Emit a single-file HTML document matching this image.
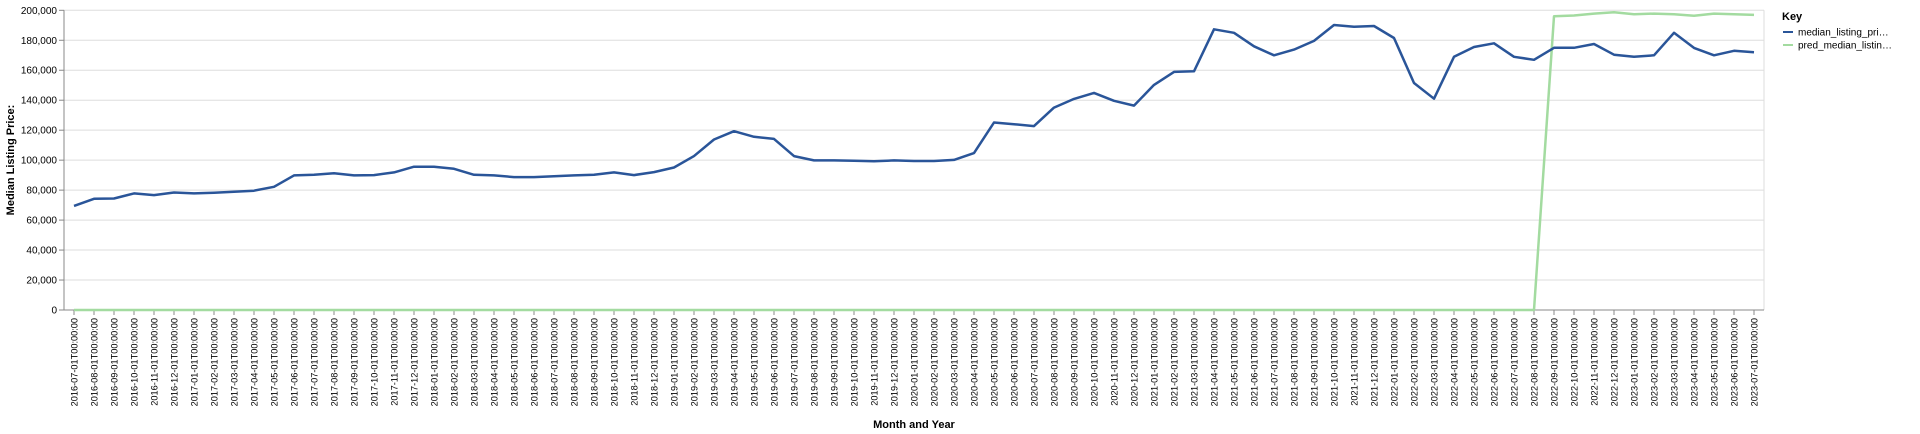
<!DOCTYPE html>
<html><head><meta charset="utf-8"><style>
body{margin:0;background:#fff;}
svg{display:block;font-family:"Liberation Sans",Arial,sans-serif;}
</style></head><body>
<svg id="chart" width="1920" height="434" xmlns="http://www.w3.org/2000/svg">
<g id="grid"></g>
<g id="yaxis"></g>
<g id="xaxis"></g>
<g id="series"></g>
<text transform="translate(14,160) rotate(-90)" text-anchor="middle" font-size="11" font-weight="bold" fill="#000">Median Listing Price:</text>
<text x="914" y="428" text-anchor="middle" font-size="11" font-weight="bold" fill="#000">Month and Year</text>
<g>
<text x="1782" y="20" font-size="11" font-weight="bold" fill="#000">Key</text>
<g>
<line x1="1783" y1="32" x2="1793" y2="32" stroke="#2a5599" stroke-width="2"/>
<text x="1798" y="35.5" font-size="10" fill="#000">median_listing_pri…</text></g>
<g>
<line x1="1783" y1="45" x2="1793" y2="45" stroke="#a3dba0" stroke-width="2"/>
<text x="1798" y="48.5" font-size="10" fill="#000">pred_median_listin…</text></g>
</g>
</svg>
<script>
const yTicks=[0,20000,40000,60000,80000,100000,120000,140000,160000,180000,200000];
const startYear=2016, startMonth=7, nMonths=85;
const median=[69.5,74.2,74.4,77.8,76.7,78.4,77.8,78.2,78.9,79.6,82.2,89.8,90.2,91.3,89.8,90,91.8,
95.6,95.6,94.2,90.2,89.8,88.7,88.7,89.3,89.8,90.2,91.8,90,92,95.1,102.7,113.8,119.3,115.6,114.2,102.7,
99.8,99.8,99.6,99.2,99.8,99.4,99.4,100.2,104.7,125.1,124,122.7,135.1,140.9,144.9,139.6,136.4,150.2,158.9,159.3,
187.3,185,176,170,173.8,179.6,190.2,189,189.5,181.5,151.5,141,169,175.5,178,169,167,175,175,177.5,
170.4,169,170,185,174.9,170,173,172];
const pred=[0,0,0,0,0,0,0,0,0,0,0,0,0,0,0,0,0,0,0,0,0,0,0,0,0,0,0,0,0,0,0,0,0,0,0,0,0,0,0,0,0,0,0,0,0,0,0,0,0,0,0,0,0,0,0,0,0,0,0,0,0,0,0,0,0,0,0,0,0,0,0,0,0,0,
196,196.5,197.8,198.7,197.3,197.8,197.3,196.4,197.8,197.3,196.9];
const NS='http://www.w3.org/2000/svg';
const X0=64,X1=1764,Y0=310,Y1=10.3;
function xs(i){return 74+i*(1680/(nMonths-1));}
function ys(v){return Y0-(v/200000)*(Y0-Y1);}
function mk(tag,attrs,parent){const e=document.createElementNS(NS,tag);for(const k in attrs)e.setAttribute(k,attrs[k]);parent.appendChild(e);return e;}
const grid=document.getElementById('grid'),ya=document.getElementById('yaxis'),xa=document.getElementById('xaxis'),se=document.getElementById('series');
yTicks.forEach(t=>{
  const y=ys(t);
  const g=mk('line',{x1:X0,x2:X1,y1:y,y2:y,stroke:'#ddd','stroke-width':1},grid);
  
  
  mk('line',{x1:X0-5,x2:X0,y1:y,y2:y,stroke:'#888'},ya);
  const tx=mk('text',{x:X0-7,y:y+3.5,'text-anchor':'end','font-size':10,fill:'#000'},ya);
  tx.textContent=t.toLocaleString('en-US');
  
  
});
mk('line',{x1:X1,x2:X1,y1:Y1,y2:Y0,stroke:'#ddd'},grid);
mk('line',{x1:X0,x2:X0,y1:Y1,y2:Y0,stroke:'#888'},ya);
mk('line',{x1:X0,x2:X1,y1:Y0,y2:Y0,stroke:'#888'},xa);
for(let i=0;i<nMonths;i++){
  const m=startMonth-1+i, yr=startYear+Math.floor(m/12), mo=(m%12)+1;
  const lbl=yr+'-'+String(mo).padStart(2,'0')+'-01T00:00:00';
  const x=xs(i);
  mk('line',{x1:x,x2:x,y1:Y0,y2:Y0+5,stroke:'#888'},xa);
  const t=mk('text',{transform:'translate('+(x+3.5)+','+(Y0+8)+') rotate(-90)','text-anchor':'end','font-size':9.2,fill:'#000'},xa);
  t.textContent=lbl;
  
  
}
function line(data,color,name){
  const d=data.map((v,i)=>(i?'L':'M')+xs(i).toFixed(1)+','+ys(v*1000).toFixed(1)).join('');
  const p=mk('path',{d:d,fill:'none',stroke:color,'stroke-width':2.5,'stroke-linejoin':'round'},se);
  
  
}
line(pred,'#a3dba0','pred-median-line');
line(median,'#2a5599','median-listing-price-line');
</script>
</body></html>
